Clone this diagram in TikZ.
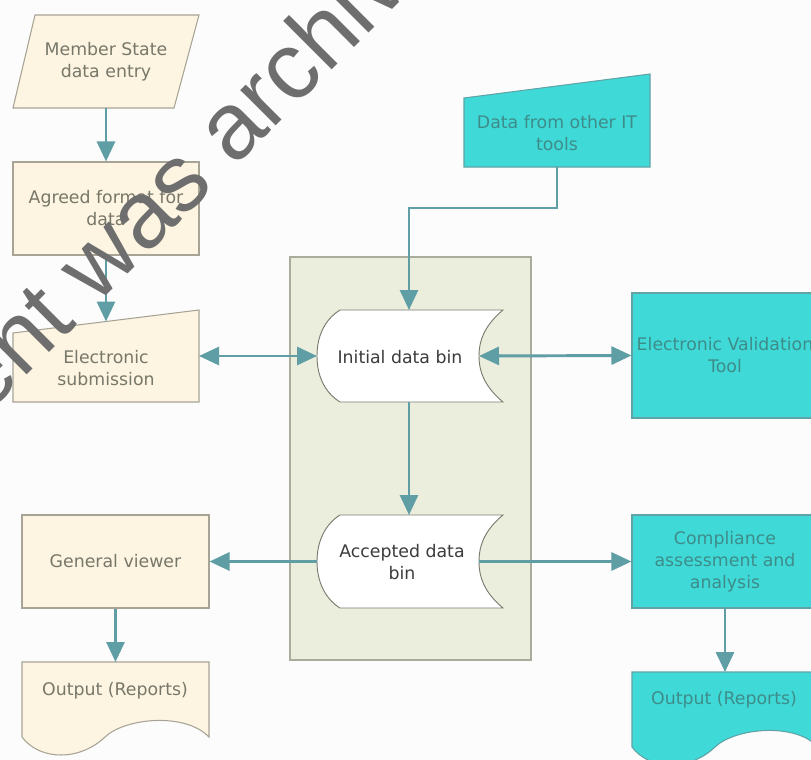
\documentclass[tikz,border=0pt]{standalone}
\usepackage{fontspec}
\setmainfont{DejaVu Sans}
\newfontfamily\wmfont{Liberation Sans}
\usetikzlibrary{arrows.meta,calc}

\definecolor{bgc}{HTML}{FCFCFC}
\definecolor{cream}{HTML}{FDF5E1}
\definecolor{creamline}{HTML}{A7A495}
\definecolor{creamtext}{HTML}{77776A}
\definecolor{cyanfill}{HTML}{3FDAD7}
\definecolor{cyanline}{HTML}{5FA3A6}
\definecolor{cyantext}{HTML}{3E8C8A}
\definecolor{panelfill}{HTML}{EBEEDC}
\definecolor{panelline}{HTML}{A9AC9B}
\definecolor{binline}{HTML}{7A7A70}
\definecolor{bintext}{HTML}{3C3C3C}
\definecolor{conncol}{HTML}{5F9EA5}
\definecolor{wmcol}{HTML}{6E6E6E}

\newcommand{\lbl}{\fontsize{13}{16.5}\selectfont}

\tikzset{
  creamshape/.style={draw=creamline, fill=cream, line width=0.8pt},
  cyanshape/.style={draw=cyanline, fill=cyanfill, line width=0.8pt},
  binshape/.style={draw=binline, fill=white, line width=0.7pt},
  creambox/.style={creamshape, minimum width=139.5pt, minimum height=69.75pt,
    inner sep=0pt, text=creamtext, align=center, font=\lbl},
  cyanbox/.style={cyanshape, minimum width=139.5pt, inner sep=0pt,
    text=cyantext, align=center, font=\lbl},
  creamlabel/.style={inner sep=0pt, text=creamtext, align=center, font=\lbl},
  cyanlabel/.style={inner sep=0pt, text=cyantext, align=center, font=\lbl},
  binlabel/.style={inner sep=0pt, text=bintext, align=center, font=\lbl},
  conn/.style={draw=conncol, line width=2.2pt,
    -{Triangle[length=15pt,width=13.5pt]}},
  biconn/.style={draw=conncol, line width=2.2pt,
    {Triangle[length=15pt,width=13.5pt]}-{Triangle[length=15pt,width=13.5pt]}},
}

\begin{document}
\begin{tikzpicture}[x=0.75pt,y=-0.75pt]
\useasboundingbox (0,0) rectangle (811,760);
\clip (0,0) rectangle (811,760);
\fill[bgc] (0,0) rectangle (811,760);

% central panel holding the two data bins
\filldraw[fill=panelfill, draw=panelline, line width=0.8pt] (290,257) rectangle (531,660);

% ---- left column ----
\filldraw[creamshape] (35,15) -- (199,15) -- (174,108) -- (13,108) -- cycle;
\node[creamlabel] (ms) at (106,62) {Member State\\data entry};
\coordinate (ms-s) at (106,108);

\node[creambox] (af) at (106,208.5) {Agreed format for\\data};

\filldraw[creamshape] (13,333) -- (199,310) -- (199,402) -- (13,402) -- cycle;
\node[creamlabel] (es) at (106,368) {Electronic\\submission};
\coordinate (es-n) at (106,321.5);
\coordinate (es-e) at (199,356);

\node[creambox, minimum width=140.25pt] (gv) at (115.5,561.5) {General viewer};

\filldraw[creamshape] (22,662) -- (209,662) -- (209,737)
  .. controls (185,712) and (125,718) .. (105,737)
  .. controls (80,761) and (40,761) .. (22,737) -- cycle;
\node[creamlabel] (out1) at (115,691) {Output (Reports)};
\coordinate (out1-n) at (115.5,662);

% ---- data bins ----
\filldraw[binshape] (340,310) -- (503,310)
  .. controls (485,325) and (479,340) .. (479,356)
  .. controls (479,372) and (485,387) .. (503,402)
  -- (340,402)
  .. controls (324,392) and (317,375) .. (317,356)
  .. controls (317,337) and (324,320) .. (340,310) -- cycle;
\node[binlabel] (ib) at (400,357) {Initial data bin};
\coordinate (ib-n) at (409,310);
\coordinate (ib-s) at (409,402);
\coordinate (ib-w) at (317,356);
\coordinate (ib-e) at (479,356);

\filldraw[binshape] (340,515) -- (503,515)
  .. controls (485,530) and (479,545) .. (479,561.5)
  .. controls (479,578) and (485,593) .. (503,608)
  -- (340,608)
  .. controls (324,598) and (317,580) .. (317,561.5)
  .. controls (317,543) and (324,525) .. (340,515) -- cycle;
\node[binlabel] (ab) at (402,562) {Accepted data\\bin};
\coordinate (ab-n) at (409,515);
\coordinate (ab-w) at (317,561.5);
\coordinate (ab-e) at (479,561.5);

% ---- right column ----
\filldraw[cyanshape] (464,98) -- (650,74) -- (650,167) -- (464,167) -- cycle;
\node[cyanlabel] (dt) at (557,133) {Data from other IT\\tools};
\coordinate (dt-s) at (557,167);

\node[cyanbox, minimum height=93.75pt] (evt) at (725,355.5) {Electronic Validation\\Tool};

\node[cyanbox, minimum height=69.75pt] (comp) at (725,561.5) {Compliance\\assessment and\\analysis};

\filldraw[cyanshape] (632,672) -- (818,672) -- (818,747)
  .. controls (795,722) and (735,728) .. (715,747)
  .. controls (690,771) and (650,771) .. (632,747) -- cycle;
\node[cyanlabel] (out2) at (724,700) {Output (Reports)};
\coordinate (out2-n) at (725,672);

% ---- connectors ----
\draw[conn] (ms-s) -- (af.north);
\draw[conn] (af.south) -- (es-n);
\draw[biconn] (es-e) -- (ib-w);
\draw[conn] (dt-s) -- ++(0,41) -| (ib-n);
\draw[biconn] (ib-e) -- (evt.west);
\draw[conn] (ib-s) -- (ab-n);
\draw[conn] (ab-w) -- (gv.east);
\draw[conn] (ab-e) -- (comp.west);
\draw[conn] (gv.south) -- (out1-n);
\draw[conn] (comp.south) -- (out2-n);

% ---- watermark lettering across the upper left ----
\node[rotate=45, anchor=base west, inner sep=0pt, text=wmcol,
  font=\wmfont\fontsize{71}{71}\selectfont] (wm) at (-15,417) {ent was archiv};
\end{tikzpicture}
\end{document}
